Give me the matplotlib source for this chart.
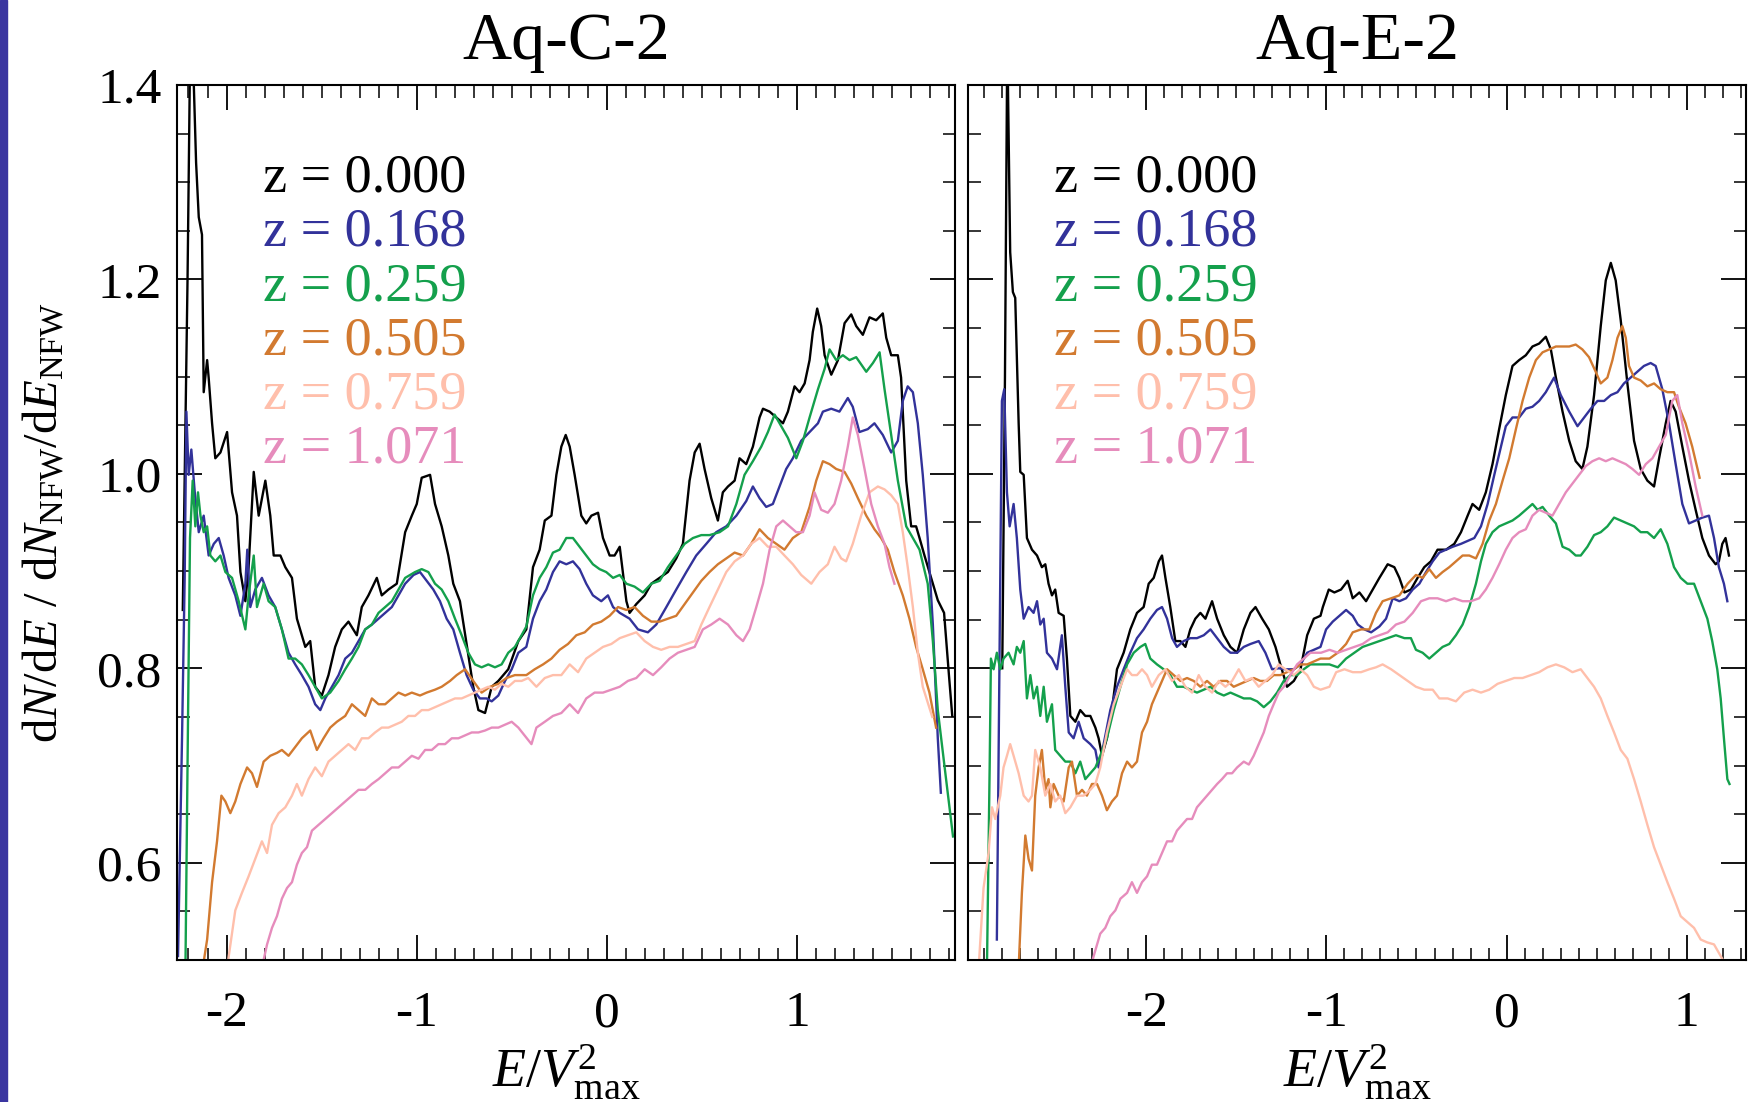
import numpy as np
import matplotlib.pyplot as plt
from matplotlib.patches import Rectangle

plt.rcParams['font.family'] = ['Liberation Serif', 'DejaVu Serif']
plt.rcParams['mathtext.fontset'] = 'custom'
plt.rcParams['mathtext.rm'] = 'Liberation Serif'
plt.rcParams['mathtext.it'] = 'Liberation Serif:italic'
plt.rcParams['axes.unicode_minus'] = False

# redshift labels and line colours
z_labels = ['z = 0.000', 'z = 0.168', 'z = 0.259', 'z = 0.505', 'z = 0.759', 'z = 1.071']
z_colors = ['#000000', '#32329a', '#14a04c', '#d27a30', '#ffbfab', '#e68cbc']
halos = ['Aq-C-2', 'Aq-E-2']

# ---- Aq-C-2 : (E/Vmax^2, dN/dE ratio) ----
aqc_z0 = [(-2.23, 0.86), (-2.205, 1.20), (-2.19, 1.46), (-2.175, 1.42), (-2.16, 1.32),
          (-2.146, 1.264), (-2.129, 1.246), (-2.120, 1.084), (-2.102, 1.117), (-2.094, 1.099),
          (-2.076, 1.052), (-2.059, 1.016), (-2.032, 1.022), (-1.997, 1.043), (-1.971, 0.981),
          (-1.945, 0.957), (-1.927, 0.899), (-1.901, 0.869), (-1.884, 0.904), (-1.857, 1.002),
          (-1.831, 0.957), (-1.796, 0.993), (-1.770, 0.957), (-1.752, 0.916), (-1.717, 0.916),
          (-1.691, 0.904), (-1.656, 0.893), (-1.630, 0.851), (-1.586, 0.822), (-1.560, 0.828),
          (-1.534, 0.781), (-1.499, 0.772), (-1.464, 0.793), (-1.429, 0.822), (-1.394, 0.840),
          (-1.359, 0.848), (-1.315, 0.834), (-1.289, 0.863), (-1.254, 0.875), (-1.210, 0.893),
          (-1.184, 0.875), (-1.149, 0.881), (-1.105, 0.887), (-1.061, 0.940), (-1.026, 0.957),
          (-1.000, 0.969), (-0.974, 0.996), (-0.930, 0.999), (-0.904, 0.969), (-0.869, 0.946),
          (-0.834, 0.916), (-0.808, 0.887), (-0.773, 0.869), (-0.738, 0.825), (-0.703, 0.781),
          (-0.676, 0.757), (-0.641, 0.754), (-0.606, 0.781), (-0.571, 0.787), (-0.519, 0.799),
          (-0.466, 0.828), (-0.424, 0.840), (-0.389, 0.904), (-0.354, 0.922), (-0.327, 0.952),
          (-0.292, 0.957), (-0.266, 0.999), (-0.240, 1.028), (-0.217, 1.040), (-0.196, 1.028),
          (-0.170, 0.999), (-0.135, 0.957), (-0.109, 0.949), (-0.082, 0.957), (-0.047, 0.960),
          (-0.021, 0.934), (0.014, 0.916), (0.040, 0.916), (0.067, 0.925), (0.102, 0.869),
          (0.119, 0.857), (0.154, 0.866), (0.198, 0.875), (0.233, 0.887), (0.277, 0.893),
          (0.320, 0.899), (0.364, 0.913), (0.399, 0.928), (0.434, 0.993), (0.461, 1.022),
          (0.487, 1.031), (0.513, 1.005), (0.548, 0.975), (0.583, 0.952), (0.609, 0.981),
          (0.636, 0.987), (0.671, 0.993), (0.697, 1.016), (0.732, 1.010), (0.767, 1.028),
          (0.802, 1.058), (0.820, 1.067), (0.855, 1.064), (0.890, 1.058), (0.925, 1.052),
          (0.951, 1.064), (0.986, 1.090), (1.012, 1.084), (1.039, 1.093), (1.065, 1.117),
          (1.082, 1.146), (1.105, 1.170), (1.126, 1.152), (1.144, 1.122), (1.179, 1.102),
          (1.214, 1.117), (1.249, 1.155), (1.284, 1.164), (1.310, 1.152), (1.345, 1.143),
          (1.380, 1.161), (1.415, 1.158), (1.450, 1.165), (1.468, 1.140), (1.494, 1.122),
          (1.529, 1.122), (1.546, 1.099), (1.573, 0.993), (1.599, 0.946), (1.625, 0.946),
          (1.643, 0.934), (1.669, 0.916), (1.695, 0.899), (1.739, 0.870), (1.772, 0.857),
          (1.798, 0.792), (1.815, 0.751)]

aqc_z1 = [(-2.255, 0.504), (-2.234, 0.728), (-2.220, 0.893), (-2.211, 1.064), (-2.199, 0.999),
          (-2.185, 1.025), (-2.167, 0.981), (-2.146, 0.940), (-2.120, 0.957), (-2.094, 0.916),
          (-2.067, 0.928), (-2.041, 0.934), (-2.015, 0.916), (-1.989, 0.893), (-1.954, 0.875),
          (-1.927, 0.854), (-1.901, 0.887), (-1.891, 0.922), (-1.875, 0.863), (-1.849, 0.881),
          (-1.814, 0.893), (-1.779, 0.875), (-1.744, 0.863), (-1.709, 0.840), (-1.674, 0.816),
          (-1.639, 0.804), (-1.604, 0.793), (-1.569, 0.781), (-1.534, 0.763), (-1.507, 0.757),
          (-1.481, 0.769), (-1.446, 0.781), (-1.411, 0.793), (-1.376, 0.810), (-1.341, 0.816),
          (-1.306, 0.828), (-1.271, 0.840), (-1.236, 0.845), (-1.201, 0.851), (-1.166, 0.857),
          (-1.131, 0.863), (-1.096, 0.875), (-1.061, 0.887), (-1.017, 0.896), (-0.983, 0.899),
          (-0.948, 0.890), (-0.913, 0.881), (-0.878, 0.869), (-0.843, 0.851), (-0.808, 0.840),
          (-0.773, 0.816), (-0.738, 0.793), (-0.703, 0.778), (-0.668, 0.769), (-0.633, 0.769),
          (-0.606, 0.766), (-0.571, 0.772), (-0.536, 0.787), (-0.501, 0.799), (-0.466, 0.816),
          (-0.424, 0.822), (-0.389, 0.851), (-0.354, 0.869), (-0.319, 0.881), (-0.284, 0.899),
          (-0.249, 0.910), (-0.214, 0.907), (-0.179, 0.910), (-0.144, 0.902), (-0.109, 0.887),
          (-0.074, 0.875), (-0.030, 0.869), (0.005, 0.875), (0.032, 0.863), (0.067, 0.857),
          (0.119, 0.851), (0.163, 0.840), (0.215, 0.837), (0.259, 0.845), (0.312, 0.863),
          (0.364, 0.881), (0.417, 0.899), (0.469, 0.916), (0.522, 0.928), (0.574, 0.940),
          (0.627, 0.946), (0.680, 0.957), (0.732, 0.972), (0.767, 0.987), (0.802, 0.975),
          (0.837, 0.966), (0.872, 0.969), (0.907, 0.987), (0.942, 1.005), (0.977, 1.016),
          (1.021, 1.034), (1.065, 1.043), (1.109, 1.052), (1.135, 1.064), (1.179, 1.067),
          (1.222, 1.064), (1.266, 1.078), (1.292, 1.069), (1.327, 1.043), (1.371, 1.046),
          (1.406, 1.052), (1.450, 1.040), (1.494, 1.022), (1.529, 1.034), (1.555, 1.075),
          (1.581, 1.090), (1.608, 1.084), (1.634, 1.052), (1.660, 0.999), (1.686, 0.934),
          (1.713, 0.845), (1.739, 0.728), (1.755, 0.672)]

aqc_z2 = [(-2.216, 0.492), (-2.202, 0.757), (-2.192, 0.934), (-2.185, 0.963), (-2.178, 0.993),
          (-2.164, 0.946), (-2.150, 0.981), (-2.137, 0.957), (-2.120, 0.940), (-2.102, 0.946),
          (-2.085, 0.916), (-2.059, 0.910), (-2.032, 0.916), (-2.006, 0.899), (-1.971, 0.893),
          (-1.936, 0.869), (-1.901, 0.840), (-1.884, 0.875), (-1.857, 0.916), (-1.840, 0.863),
          (-1.805, 0.887), (-1.779, 0.869), (-1.744, 0.863), (-1.709, 0.840), (-1.674, 0.810),
          (-1.639, 0.810), (-1.604, 0.804), (-1.569, 0.793), (-1.534, 0.781), (-1.499, 0.769),
          (-1.455, 0.775), (-1.411, 0.787), (-1.376, 0.799), (-1.341, 0.810), (-1.306, 0.822),
          (-1.271, 0.840), (-1.236, 0.845), (-1.201, 0.857), (-1.166, 0.863), (-1.131, 0.869),
          (-1.096, 0.881), (-1.061, 0.893), (-1.009, 0.899), (-0.974, 0.902), (-0.939, 0.899),
          (-0.904, 0.887), (-0.869, 0.881), (-0.834, 0.869), (-0.799, 0.851), (-0.764, 0.834),
          (-0.729, 0.816), (-0.694, 0.804), (-0.659, 0.801), (-0.624, 0.804), (-0.589, 0.801),
          (-0.554, 0.804), (-0.519, 0.816), (-0.484, 0.822), (-0.449, 0.834), (-0.424, 0.843),
          (-0.389, 0.875), (-0.354, 0.893), (-0.319, 0.904), (-0.284, 0.919), (-0.249, 0.922),
          (-0.214, 0.934), (-0.179, 0.934), (-0.144, 0.925), (-0.109, 0.916), (-0.074, 0.907),
          (-0.039, 0.902), (-0.004, 0.899), (0.032, 0.893), (0.067, 0.896), (0.102, 0.887),
          (0.145, 0.884), (0.189, 0.878), (0.233, 0.887), (0.277, 0.890), (0.320, 0.904),
          (0.364, 0.916), (0.408, 0.928), (0.452, 0.934), (0.496, 0.937), (0.539, 0.937),
          (0.592, 0.940), (0.636, 0.946), (0.680, 0.969), (0.723, 0.999), (0.767, 1.013),
          (0.811, 1.028), (0.846, 1.043), (0.881, 1.061), (0.916, 1.049), (0.951, 1.037),
          (0.995, 1.016), (1.030, 1.034), (1.065, 1.058), (1.109, 1.087), (1.144, 1.108),
          (1.170, 1.128), (1.205, 1.117), (1.240, 1.122), (1.275, 1.117), (1.310, 1.120),
          (1.363, 1.105), (1.398, 1.114), (1.433, 1.125), (1.459, 1.087), (1.494, 1.040),
          (1.529, 0.993), (1.573, 0.946), (1.608, 0.934), (1.643, 0.922), (1.686, 0.887),
          (1.713, 0.828), (1.739, 0.757), (1.780, 0.690), (1.819, 0.627)]

aqc_z3 = [(-2.125, 0.492), (-2.102, 0.521), (-2.076, 0.580), (-2.050, 0.622), (-2.027, 0.669),
          (-2.006, 0.663), (-1.980, 0.651), (-1.954, 0.663), (-1.927, 0.681), (-1.892, 0.698),
          (-1.866, 0.692), (-1.840, 0.678), (-1.805, 0.704), (-1.770, 0.710), (-1.735, 0.713),
          (-1.709, 0.716), (-1.674, 0.710), (-1.639, 0.719), (-1.604, 0.728), (-1.560, 0.736),
          (-1.525, 0.716), (-1.490, 0.728), (-1.455, 0.739), (-1.420, 0.745), (-1.376, 0.751),
          (-1.341, 0.763), (-1.306, 0.757), (-1.271, 0.751), (-1.236, 0.769), (-1.201, 0.763),
          (-1.166, 0.763), (-1.131, 0.769), (-1.096, 0.775), (-1.061, 0.772), (-1.026, 0.775),
          (-0.983, 0.772), (-0.948, 0.775), (-0.904, 0.778), (-0.869, 0.781), (-0.825, 0.787),
          (-0.790, 0.793), (-0.746, 0.799), (-0.703, 0.787), (-0.659, 0.775), (-0.615, 0.781),
          (-0.571, 0.784), (-0.528, 0.790), (-0.484, 0.793), (-0.424, 0.793), (-0.380, 0.799),
          (-0.336, 0.804), (-0.292, 0.810), (-0.249, 0.819), (-0.205, 0.825), (-0.161, 0.834),
          (-0.117, 0.837), (-0.074, 0.845), (-0.030, 0.848), (0.014, 0.854), (0.058, 0.863),
          (0.102, 0.860), (0.145, 0.863), (0.189, 0.854), (0.233, 0.848), (0.277, 0.848),
          (0.320, 0.851), (0.364, 0.854), (0.408, 0.866), (0.452, 0.878), (0.496, 0.890),
          (0.539, 0.899), (0.583, 0.907), (0.627, 0.913), (0.671, 0.919), (0.715, 0.916),
          (0.758, 0.928), (0.802, 0.943), (0.846, 0.934), (0.890, 0.928), (0.933, 0.922),
          (0.977, 0.934), (1.021, 0.940), (1.065, 0.966), (1.100, 0.993), (1.135, 1.013),
          (1.170, 1.010), (1.205, 1.005), (1.249, 1.002), (1.284, 0.990), (1.319, 0.975),
          (1.363, 0.957), (1.406, 0.943), (1.441, 0.934), (1.476, 0.922), (1.511, 0.899),
          (1.555, 0.875), (1.590, 0.851), (1.625, 0.822), (1.660, 0.799), (1.695, 0.775),
          (1.730, 0.739)]

aqc_z4 = [(-1.997, 0.492), (-1.954, 0.551), (-1.919, 0.569), (-1.884, 0.586), (-1.849, 0.604),
          (-1.814, 0.622), (-1.787, 0.610), (-1.761, 0.639), (-1.726, 0.651), (-1.691, 0.657),
          (-1.656, 0.669), (-1.630, 0.681), (-1.604, 0.669), (-1.569, 0.686), (-1.534, 0.698),
          (-1.499, 0.689), (-1.464, 0.704), (-1.429, 0.710), (-1.394, 0.716), (-1.359, 0.722),
          (-1.324, 0.716), (-1.289, 0.728), (-1.254, 0.728), (-1.219, 0.734), (-1.184, 0.739),
          (-1.149, 0.739), (-1.114, 0.742), (-1.079, 0.745), (-1.044, 0.751), (-1.009, 0.751),
          (-0.974, 0.757), (-0.939, 0.757), (-0.904, 0.760), (-0.869, 0.763), (-0.834, 0.766),
          (-0.799, 0.769), (-0.764, 0.769), (-0.729, 0.772), (-0.694, 0.775), (-0.659, 0.778),
          (-0.624, 0.781), (-0.589, 0.778), (-0.554, 0.784), (-0.519, 0.781), (-0.484, 0.787),
          (-0.449, 0.787), (-0.414, 0.790), (-0.371, 0.781), (-0.327, 0.790), (-0.284, 0.793),
          (-0.240, 0.793), (-0.196, 0.804), (-0.152, 0.796), (-0.109, 0.810), (-0.065, 0.816),
          (-0.021, 0.822), (0.023, 0.825), (0.067, 0.831), (0.110, 0.834), (0.154, 0.837),
          (0.198, 0.828), (0.242, 0.822), (0.285, 0.819), (0.329, 0.822), (0.373, 0.822),
          (0.417, 0.825), (0.461, 0.828), (0.496, 0.845), (0.539, 0.863), (0.583, 0.881),
          (0.627, 0.899), (0.671, 0.910), (0.715, 0.916), (0.758, 0.928), (0.802, 0.934),
          (0.846, 0.925), (0.890, 0.925), (0.933, 0.916), (0.977, 0.907), (1.021, 0.896),
          (1.074, 0.887), (1.117, 0.899), (1.161, 0.907), (1.196, 0.925), (1.231, 0.913),
          (1.257, 0.910), (1.292, 0.928), (1.336, 0.957), (1.380, 0.981), (1.424, 0.987),
          (1.459, 0.984), (1.494, 0.978), (1.529, 0.969), (1.555, 0.940), (1.581, 0.904),
          (1.608, 0.863), (1.634, 0.816), (1.660, 0.781), (1.710, 0.750)]

aqc_z5 = [(-1.814, 0.492), (-1.787, 0.516), (-1.761, 0.533), (-1.735, 0.545), (-1.709, 0.563),
          (-1.682, 0.574), (-1.656, 0.580), (-1.630, 0.598), (-1.604, 0.610), (-1.577, 0.616),
          (-1.551, 0.633), (-1.516, 0.639), (-1.481, 0.645), (-1.446, 0.651), (-1.411, 0.657),
          (-1.376, 0.663), (-1.341, 0.669), (-1.306, 0.675), (-1.271, 0.675), (-1.236, 0.681),
          (-1.201, 0.686), (-1.166, 0.692), (-1.131, 0.698), (-1.096, 0.698), (-1.061, 0.704),
          (-1.026, 0.710), (-0.991, 0.707), (-0.956, 0.716), (-0.921, 0.716), (-0.886, 0.722),
          (-0.851, 0.722), (-0.816, 0.728), (-0.781, 0.728), (-0.746, 0.731), (-0.711, 0.734),
          (-0.676, 0.734), (-0.641, 0.736), (-0.606, 0.739), (-0.571, 0.739), (-0.536, 0.742),
          (-0.501, 0.745), (-0.466, 0.739), (-0.397, 0.722), (-0.371, 0.739), (-0.327, 0.745),
          (-0.284, 0.751), (-0.240, 0.754), (-0.196, 0.763), (-0.152, 0.754), (-0.109, 0.769),
          (-0.065, 0.775), (-0.021, 0.775), (0.023, 0.778), (0.067, 0.781), (0.110, 0.787),
          (0.154, 0.790), (0.198, 0.799), (0.242, 0.793), (0.285, 0.801), (0.329, 0.810),
          (0.373, 0.816), (0.417, 0.819), (0.461, 0.822), (0.504, 0.840), (0.548, 0.845),
          (0.592, 0.851), (0.636, 0.845), (0.680, 0.834), (0.715, 0.828), (0.750, 0.840),
          (0.785, 0.863), (0.820, 0.887), (0.855, 0.922), (0.890, 0.946), (0.925, 0.952),
          (0.960, 0.946), (0.995, 0.940), (1.030, 0.940), (1.065, 0.957), (1.091, 0.981),
          (1.126, 0.963), (1.161, 0.960), (1.196, 0.969), (1.231, 0.993), (1.266, 1.028),
          (1.292, 1.058), (1.319, 1.040), (1.354, 1.005), (1.389, 0.969), (1.424, 0.946),
          (1.459, 0.928), (1.485, 0.904), (1.511, 0.887)]

# ---- Aq-E-2 ----
aqe_z0 = [(-2.800, 0.800), (-2.785, 1.100), (-2.772, 1.450), (-2.756, 1.228), (-2.741, 1.187),
          (-2.728, 1.181), (-2.709, 1.052), (-2.700, 1.002), (-2.681, 0.999), (-2.663, 0.934),
          (-2.635, 0.922), (-2.607, 0.916), (-2.580, 0.904), (-2.561, 0.907), (-2.543, 0.887),
          (-2.524, 0.875), (-2.506, 0.881), (-2.487, 0.857), (-2.459, 0.854), (-2.441, 0.810),
          (-2.422, 0.751), (-2.394, 0.745), (-2.367, 0.757), (-2.339, 0.751), (-2.311, 0.751),
          (-2.283, 0.739), (-2.265, 0.728), (-2.246, 0.710), (-2.219, 0.728), (-2.191, 0.757),
          (-2.163, 0.799), (-2.126, 0.816), (-2.089, 0.840), (-2.052, 0.857), (-2.015, 0.863),
          (-1.987, 0.887), (-1.959, 0.893), (-1.931, 0.910), (-1.913, 0.916), (-1.894, 0.893),
          (-1.867, 0.863), (-1.839, 0.828), (-1.811, 0.828), (-1.783, 0.822), (-1.756, 0.840),
          (-1.728, 0.851), (-1.700, 0.857), (-1.672, 0.851), (-1.635, 0.869), (-1.607, 0.851),
          (-1.570, 0.834), (-1.533, 0.822), (-1.496, 0.816), (-1.459, 0.840), (-1.422, 0.857),
          (-1.394, 0.863), (-1.357, 0.851), (-1.320, 0.840), (-1.283, 0.822), (-1.256, 0.804),
          (-1.219, 0.781), (-1.181, 0.787), (-1.144, 0.799), (-1.107, 0.834), (-1.070, 0.851),
          (-1.033, 0.854), (-1.020, 0.863), (-0.987, 0.881), (-0.956, 0.878), (-0.919, 0.881),
          (-0.882, 0.890), (-0.854, 0.872), (-0.817, 0.878), (-0.780, 0.869), (-0.743, 0.881),
          (-0.706, 0.893), (-0.660, 0.907), (-0.623, 0.904), (-0.595, 0.893), (-0.567, 0.878),
          (-0.531, 0.881), (-0.494, 0.893), (-0.457, 0.904), (-0.420, 0.910), (-0.383, 0.922),
          (-0.336, 0.922), (-0.290, 0.928), (-0.253, 0.940), (-0.216, 0.957), (-0.189, 0.969),
          (-0.152, 0.963), (-0.115, 0.981), (-0.078, 1.010), (-0.041, 1.046), (-0.004, 1.081),
          (0.033, 1.111), (0.070, 1.117), (0.107, 1.122), (0.144, 1.131), (0.181, 1.134),
          (0.218, 1.141), (0.246, 1.128), (0.274, 1.099), (0.311, 1.064), (0.348, 1.034),
          (0.384, 1.013), (0.421, 1.005), (0.449, 1.028), (0.486, 1.081), (0.523, 1.152),
          (0.551, 1.199), (0.579, 1.217), (0.606, 1.199), (0.634, 1.158), (0.671, 1.093),
          (0.708, 1.034), (0.745, 1.005), (0.782, 0.993), (0.819, 0.987), (0.847, 1.016),
          (0.884, 1.052), (0.911, 1.075), (0.939, 1.064), (0.976, 1.028), (1.013, 0.993),
          (1.050, 0.963), (1.087, 0.934), (1.124, 0.916), (1.161, 0.907), (1.179, 0.910),
          (1.198, 0.928), (1.216, 0.934), (1.235, 0.916)]

aqe_z1 = [(-2.830, 0.521), (-2.815, 0.816), (-2.802, 1.075), (-2.789, 1.087), (-2.774, 0.981),
          (-2.759, 0.946), (-2.737, 0.969), (-2.719, 0.934), (-2.700, 0.881), (-2.681, 0.851),
          (-2.654, 0.863), (-2.626, 0.857), (-2.607, 0.869), (-2.589, 0.845), (-2.570, 0.851),
          (-2.552, 0.816), (-2.524, 0.810), (-2.496, 0.799), (-2.469, 0.834), (-2.450, 0.781),
          (-2.431, 0.734), (-2.404, 0.728), (-2.376, 0.745), (-2.348, 0.728), (-2.311, 0.722),
          (-2.283, 0.716), (-2.265, 0.698), (-2.237, 0.722), (-2.200, 0.757), (-2.163, 0.781),
          (-2.126, 0.799), (-2.089, 0.816), (-2.052, 0.831), (-2.015, 0.840), (-1.978, 0.851),
          (-1.941, 0.860), (-1.913, 0.863), (-1.885, 0.851), (-1.857, 0.831), (-1.830, 0.822),
          (-1.793, 0.828), (-1.756, 0.831), (-1.719, 0.831), (-1.681, 0.834), (-1.644, 0.840),
          (-1.607, 0.831), (-1.570, 0.822), (-1.533, 0.816), (-1.496, 0.816), (-1.459, 0.822),
          (-1.422, 0.825), (-1.376, 0.828), (-1.339, 0.816), (-1.302, 0.799), (-1.265, 0.800),
          (-1.228, 0.799), (-1.181, 0.799), (-1.144, 0.804), (-1.107, 0.816), (-1.070, 0.819),
          (-1.033, 0.822), (-1.002, 0.840), (-0.965, 0.848), (-0.928, 0.854), (-0.891, 0.860),
          (-0.854, 0.854), (-0.826, 0.845), (-0.789, 0.840), (-0.752, 0.837), (-0.706, 0.843),
          (-0.669, 0.851), (-0.632, 0.872), (-0.595, 0.869), (-0.558, 0.872), (-0.521, 0.881),
          (-0.484, 0.887), (-0.447, 0.899), (-0.410, 0.910), (-0.373, 0.919), (-0.336, 0.922),
          (-0.299, 0.925), (-0.253, 0.928), (-0.216, 0.931), (-0.179, 0.934), (-0.142, 0.946),
          (-0.105, 0.969), (-0.068, 0.999), (-0.031, 1.028), (-0.004, 1.049), (0.033, 1.058),
          (0.070, 1.058), (0.107, 1.067), (0.144, 1.069), (0.181, 1.075), (0.218, 1.084),
          (0.264, 1.099), (0.301, 1.081), (0.348, 1.064), (0.394, 1.049), (0.431, 1.058),
          (0.468, 1.067), (0.505, 1.075), (0.542, 1.075), (0.579, 1.081), (0.616, 1.084),
          (0.652, 1.093), (0.689, 1.099), (0.726, 1.105), (0.763, 1.111), (0.800, 1.114),
          (0.828, 1.111), (0.865, 1.087), (0.902, 1.052), (0.939, 1.010), (0.976, 0.969),
          (1.013, 0.949), (1.050, 0.952), (1.087, 0.955), (1.124, 0.957), (1.152, 0.934),
          (1.179, 0.904), (1.207, 0.887), (1.226, 0.869)]

aqe_z2 = [(-2.885, 0.492), (-2.870, 0.698), (-2.863, 0.810), (-2.848, 0.799), (-2.830, 0.816),
          (-2.811, 0.799), (-2.793, 0.810), (-2.765, 0.816), (-2.737, 0.804), (-2.719, 0.822),
          (-2.700, 0.816), (-2.681, 0.828), (-2.663, 0.769), (-2.644, 0.793), (-2.626, 0.769),
          (-2.607, 0.781), (-2.589, 0.751), (-2.570, 0.781), (-2.552, 0.745), (-2.524, 0.763),
          (-2.506, 0.716), (-2.478, 0.710), (-2.450, 0.704), (-2.422, 0.704), (-2.394, 0.692),
          (-2.367, 0.704), (-2.339, 0.686), (-2.311, 0.692), (-2.283, 0.698), (-2.256, 0.710),
          (-2.219, 0.728), (-2.181, 0.757), (-2.144, 0.781), (-2.107, 0.804), (-2.070, 0.816),
          (-2.033, 0.822), (-2.006, 0.825), (-1.978, 0.810), (-1.941, 0.804), (-1.904, 0.799),
          (-1.867, 0.793), (-1.830, 0.781), (-1.793, 0.781), (-1.756, 0.778), (-1.719, 0.775),
          (-1.681, 0.778), (-1.644, 0.781), (-1.607, 0.775), (-1.570, 0.772), (-1.533, 0.775),
          (-1.496, 0.772), (-1.459, 0.769), (-1.422, 0.769), (-1.385, 0.766), (-1.348, 0.760),
          (-1.311, 0.766), (-1.274, 0.775), (-1.237, 0.787), (-1.200, 0.793), (-1.163, 0.793),
          (-1.126, 0.799), (-1.089, 0.804), (-1.033, 0.804), (-0.983, 0.804), (-0.937, 0.801),
          (-0.891, 0.810), (-0.845, 0.816), (-0.799, 0.822), (-0.752, 0.825), (-0.706, 0.828),
          (-0.660, 0.831), (-0.614, 0.834), (-0.567, 0.831), (-0.531, 0.831), (-0.503, 0.819),
          (-0.466, 0.816), (-0.429, 0.810), (-0.392, 0.816), (-0.355, 0.822), (-0.318, 0.825),
          (-0.281, 0.834), (-0.244, 0.845), (-0.207, 0.863), (-0.170, 0.887), (-0.142, 0.910),
          (-0.115, 0.928), (-0.078, 0.940), (-0.041, 0.946), (-0.004, 0.949), (0.033, 0.952),
          (0.070, 0.957), (0.107, 0.963), (0.144, 0.969), (0.172, 0.963), (0.200, 0.966),
          (0.237, 0.957), (0.274, 0.949), (0.311, 0.925), (0.348, 0.922), (0.384, 0.916),
          (0.412, 0.916), (0.449, 0.925), (0.486, 0.937), (0.523, 0.940), (0.560, 0.946),
          (0.597, 0.955), (0.634, 0.952), (0.671, 0.949), (0.708, 0.946), (0.745, 0.940),
          (0.782, 0.940), (0.819, 0.934), (0.856, 0.943), (0.893, 0.928), (0.930, 0.904),
          (0.967, 0.893), (1.004, 0.887), (1.041, 0.887), (1.078, 0.869), (1.115, 0.851),
          (1.142, 0.828), (1.170, 0.799), (1.189, 0.769), (1.207, 0.728), (1.226, 0.686),
          (1.238, 0.681)]

aqe_z3 = [(-2.709, 0.492), (-2.691, 0.569), (-2.672, 0.628), (-2.654, 0.604), (-2.635, 0.592),
          (-2.617, 0.669), (-2.598, 0.698), (-2.580, 0.716), (-2.561, 0.675), (-2.543, 0.686),
          (-2.533, 0.657), (-2.515, 0.681), (-2.487, 0.669), (-2.459, 0.663), (-2.431, 0.698),
          (-2.413, 0.704), (-2.385, 0.669), (-2.357, 0.675), (-2.330, 0.669), (-2.302, 0.681),
          (-2.274, 0.681), (-2.246, 0.669), (-2.219, 0.654), (-2.191, 0.663), (-2.163, 0.669),
          (-2.135, 0.692), (-2.107, 0.704), (-2.080, 0.698), (-2.052, 0.704), (-2.024, 0.734),
          (-1.996, 0.745), (-1.969, 0.763), (-1.941, 0.775), (-1.913, 0.787), (-1.885, 0.799),
          (-1.848, 0.793), (-1.811, 0.787), (-1.774, 0.790), (-1.737, 0.787), (-1.700, 0.781),
          (-1.663, 0.787), (-1.626, 0.781), (-1.589, 0.787), (-1.552, 0.787), (-1.515, 0.781),
          (-1.478, 0.784), (-1.441, 0.787), (-1.404, 0.790), (-1.367, 0.787), (-1.330, 0.787),
          (-1.293, 0.793), (-1.256, 0.793), (-1.219, 0.796), (-1.181, 0.799), (-1.144, 0.804),
          (-1.107, 0.804), (-1.033, 0.810), (-0.983, 0.810), (-0.937, 0.816), (-0.891, 0.825),
          (-0.854, 0.837), (-0.808, 0.840), (-0.762, 0.840), (-0.725, 0.857), (-0.688, 0.869),
          (-0.641, 0.872), (-0.595, 0.875), (-0.549, 0.887), (-0.503, 0.896), (-0.466, 0.893),
          (-0.429, 0.902), (-0.392, 0.893), (-0.355, 0.899), (-0.318, 0.904), (-0.281, 0.910),
          (-0.244, 0.916), (-0.207, 0.916), (-0.170, 0.913), (-0.133, 0.928), (-0.096, 0.952),
          (-0.059, 0.969), (-0.022, 0.993), (0.015, 1.016), (0.052, 1.046), (0.089, 1.075),
          (0.126, 1.099), (0.163, 1.117), (0.200, 1.125), (0.237, 1.128), (0.274, 1.131),
          (0.311, 1.131), (0.348, 1.131), (0.384, 1.133), (0.421, 1.128), (0.458, 1.120),
          (0.495, 1.105), (0.523, 1.093), (0.560, 1.099), (0.588, 1.117), (0.616, 1.140),
          (0.643, 1.152), (0.662, 1.140), (0.680, 1.111), (0.708, 1.099), (0.745, 1.096),
          (0.782, 1.090), (0.819, 1.093), (0.856, 1.087), (0.893, 1.084), (0.930, 1.084),
          (0.957, 1.069), (0.994, 1.052), (1.031, 1.028), (1.072, 0.996)]

aqe_z4 = [(-2.931, 0.492), (-2.904, 0.574), (-2.876, 0.610), (-2.857, 0.657), (-2.839, 0.645),
          (-2.811, 0.669), (-2.793, 0.698), (-2.774, 0.710), (-2.756, 0.722), (-2.737, 0.710),
          (-2.709, 0.692), (-2.681, 0.669), (-2.654, 0.663), (-2.635, 0.669), (-2.617, 0.716),
          (-2.589, 0.698), (-2.561, 0.669), (-2.533, 0.681), (-2.506, 0.663), (-2.478, 0.669),
          (-2.450, 0.651), (-2.422, 0.657), (-2.385, 0.669), (-2.348, 0.669), (-2.311, 0.675),
          (-2.283, 0.681), (-2.256, 0.698), (-2.219, 0.734), (-2.181, 0.763), (-2.144, 0.781),
          (-2.107, 0.799), (-2.080, 0.793), (-2.052, 0.793), (-2.024, 0.799), (-1.996, 0.793),
          (-1.969, 0.781), (-1.931, 0.793), (-1.894, 0.799), (-1.857, 0.787), (-1.820, 0.793),
          (-1.783, 0.781), (-1.746, 0.775), (-1.709, 0.793), (-1.672, 0.781), (-1.635, 0.775),
          (-1.598, 0.787), (-1.561, 0.781), (-1.524, 0.787), (-1.487, 0.799), (-1.450, 0.787),
          (-1.413, 0.790), (-1.376, 0.781), (-1.339, 0.787), (-1.302, 0.793), (-1.265, 0.804),
          (-1.228, 0.799), (-1.181, 0.793), (-1.144, 0.799), (-1.107, 0.793), (-1.070, 0.781),
          (-1.033, 0.778), (-0.983, 0.781), (-0.946, 0.796), (-0.900, 0.799), (-0.854, 0.796),
          (-0.808, 0.796), (-0.762, 0.799), (-0.725, 0.801), (-0.688, 0.804), (-0.641, 0.799),
          (-0.595, 0.793), (-0.549, 0.787), (-0.503, 0.781), (-0.457, 0.778), (-0.410, 0.778),
          (-0.373, 0.769), (-0.327, 0.769), (-0.281, 0.766), (-0.235, 0.775), (-0.189, 0.778),
          (-0.142, 0.775), (-0.096, 0.778), (-0.050, 0.784), (-0.004, 0.787), (0.043, 0.790),
          (0.089, 0.790), (0.135, 0.793), (0.181, 0.796), (0.227, 0.801), (0.274, 0.804),
          (0.320, 0.801), (0.366, 0.796), (0.412, 0.799), (0.449, 0.790), (0.486, 0.781),
          (0.523, 0.769), (0.560, 0.751), (0.597, 0.734), (0.634, 0.716), (0.671, 0.707),
          (0.708, 0.686), (0.745, 0.663), (0.782, 0.639), (0.819, 0.616), (0.856, 0.598),
          (0.893, 0.580), (0.930, 0.563), (0.967, 0.545), (1.004, 0.539), (1.041, 0.533),
          (1.078, 0.521), (1.115, 0.518), (1.152, 0.516), (1.189, 0.504), (1.226, 0.492)]

aqe_z5 = [(-2.311, 0.492), (-2.283, 0.510), (-2.256, 0.527), (-2.228, 0.533), (-2.200, 0.545),
          (-2.172, 0.551), (-2.144, 0.563), (-2.107, 0.569), (-2.080, 0.580), (-2.052, 0.569),
          (-2.024, 0.580), (-1.996, 0.586), (-1.969, 0.598), (-1.941, 0.598), (-1.913, 0.610),
          (-1.885, 0.622), (-1.857, 0.622), (-1.830, 0.633), (-1.802, 0.639), (-1.774, 0.645),
          (-1.746, 0.645), (-1.719, 0.657), (-1.691, 0.663), (-1.663, 0.669), (-1.635, 0.675),
          (-1.607, 0.681), (-1.580, 0.686), (-1.552, 0.692), (-1.524, 0.692), (-1.496, 0.698),
          (-1.459, 0.704), (-1.431, 0.701), (-1.404, 0.710), (-1.376, 0.722), (-1.348, 0.734),
          (-1.320, 0.751), (-1.293, 0.763), (-1.265, 0.775), (-1.237, 0.781), (-1.200, 0.793),
          (-1.163, 0.804), (-1.126, 0.810), (-1.089, 0.816), (-1.030, 0.816), (-0.983, 0.819),
          (-0.937, 0.816), (-0.891, 0.819), (-0.845, 0.822), (-0.799, 0.825), (-0.752, 0.831),
          (-0.706, 0.834), (-0.660, 0.837), (-0.614, 0.845), (-0.567, 0.848), (-0.521, 0.857),
          (-0.475, 0.869), (-0.429, 0.872), (-0.383, 0.872), (-0.336, 0.869), (-0.290, 0.872),
          (-0.244, 0.869), (-0.198, 0.869), (-0.152, 0.872), (-0.115, 0.881), (-0.078, 0.893),
          (-0.041, 0.907), (-0.004, 0.922), (0.033, 0.934), (0.070, 0.940), (0.107, 0.943),
          (0.144, 0.957), (0.181, 0.963), (0.218, 0.960), (0.255, 0.957), (0.292, 0.969),
          (0.329, 0.981), (0.366, 0.990), (0.403, 0.999), (0.440, 1.008), (0.477, 1.013),
          (0.514, 1.016), (0.551, 1.013), (0.588, 1.016), (0.625, 1.013), (0.662, 1.010),
          (0.699, 1.005), (0.736, 0.999), (0.773, 1.010), (0.810, 1.016), (0.847, 1.028),
          (0.884, 1.040), (0.920, 1.075), (0.948, 1.081), (0.976, 1.052), (1.013, 1.022),
          (1.050, 0.987), (1.087, 0.957)]

curves = {
    'Aq-C-2': [aqc_z0, aqc_z1, aqc_z2, aqc_z3, aqc_z4, aqc_z5],
    'Aq-E-2': [aqe_z0, aqe_z1, aqe_z2, aqe_z3, aqe_z4, aqe_z5],
}
xlims = {'Aq-C-2': (-2.26, 1.83), 'Aq-E-2': (-2.99, 1.33)}

fig = plt.figure(figsize=(17.48, 11.02), dpi=100)
fig.patches.append(Rectangle((0, 0), 7 / 1748, 1, transform=fig.transFigure,
                             color='#3a35a0', zorder=0))

ax1 = fig.add_axes([0.1013, 0.1289, 0.4451, 0.7940])
ax2 = fig.add_axes([0.5538, 0.1289, 0.4451, 0.7940])

for ax, name in zip([ax1, ax2], halos):
    for data, col in zip(curves[name], z_colors):
        arr = np.array(data)
        ax.plot(arr[:, 0], arr[:, 1], color=col, lw=1.7)
    ax.set_xticks([-2, -1, 0, 1])
    ax.set_xticks(np.arange(-3.0, 1.85, 0.1), minor=True)
    ax.set_yticks([0.6, 0.8, 1.0, 1.2, 1.4])
    ax.set_yticks(np.arange(0.5, 1.41, 0.05), minor=True)
    # limits after the ticks, set_xticks would widen them otherwise
    ax.set_xlim(*xlims[name])
    ax.set_ylim(0.5, 1.4)
    ax.tick_params(which='both', direction='in', top=True, right=True,
                   labelsize=37, width=1.3)
    ax.tick_params(which='major', length=18)
    ax.tick_params(which='minor', length=9, width=1.1)
    ax.tick_params(axis='x', pad=22)
    ax.tick_params(axis='y', pad=11)
    for s in ax.spines.values():
        s.set_linewidth(1.5)
    ax.set_title(name, fontsize=49, pad=19)
    ax.text(0.5, -0.145, r'$E/V^2_{\rm max}$', transform=ax.transAxes,
            ha='center', va='baseline', fontsize=39)
    for i, (lab, col) in enumerate(zip(z_labels, z_colors)):
        ax.text(0.11, 0.878 - i * 0.062, lab, color=col, fontsize=39,
                transform=ax.transAxes, ha='left', va='baseline')

ax2.tick_params(labelleft=False)

fig.text(0.025, 0.526, r'd$N$/d$E$ / d$N_{\rm NFW}$/d$E_{\rm NFW}$',
         rotation=90, ha='center', va='center', fontsize=35)

fig.savefig('out.png', dpi=100)
